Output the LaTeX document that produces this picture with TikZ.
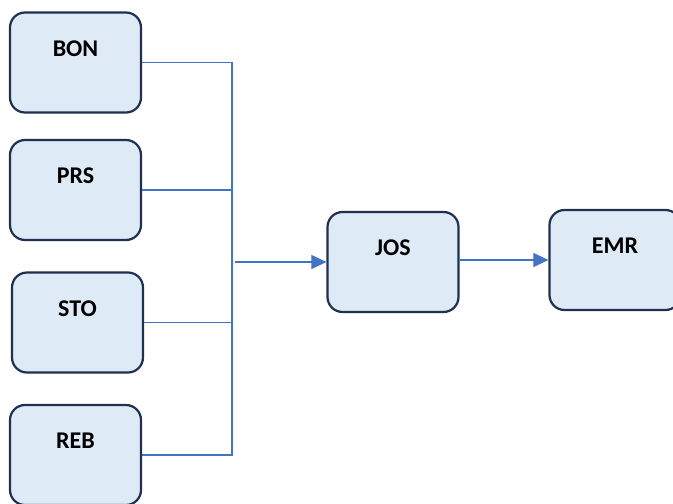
\documentclass[tikz,border=0pt]{standalone}
\usepackage{fontspec}
\setmainfont{Carlito}
\usetikzlibrary{arrows.meta}
\definecolor{boxfill}{HTML}{DEEAF6}
\definecolor{boxline}{HTML}{1F3050}
\definecolor{conn}{HTML}{4472C4}
\begin{document}
\begin{tikzpicture}[x=1pt,y=-1pt,
  box/.style={draw=boxline, line width=2.2pt, fill=boxfill, rounded corners=15pt,
    minimum width=131pt, minimum height=100pt, inner sep=0pt,
    font=\fontsize{24}{24}\selectfont\bfseries, text height=16pt, text depth=29pt},
  wire/.style={draw=conn, line width=1.1pt},
  arr/.style={wire, -{Triangle[length=15pt,width=14pt]}}]
\useasboundingbox (0,0) rectangle (673,504);
\clip (0,0) rectangle (673,504);
\node[box] (bon) at (75.5,62.5) {BON};
\node[box] (prs) at (75.5,190) {PRS};
\node[box] (sto) at (77.5,322.5) {STO};
\node[box] (reb) at (75.5,455) {REB};
\node[box] (jos) at (393,262) {JOS};
\node[box] (emr) at (615,260) {EMR};
\coordinate (top) at (232,62.5);
\coordinate (bot) at (232,455);
\coordinate (src) at (235,262);
\draw[wire] (bon.east) -- (top) -- (bot) -- (reb.east);
\draw[wire] (prs.east) -- (prs.east -| top);
\draw[wire] (sto.east) -- (sto.east -| top);
\draw[arr] (src) -- (jos.west);
\draw[arr] (jos.east |- emr.west) -- (emr.west);
\end{tikzpicture}
\end{document}
